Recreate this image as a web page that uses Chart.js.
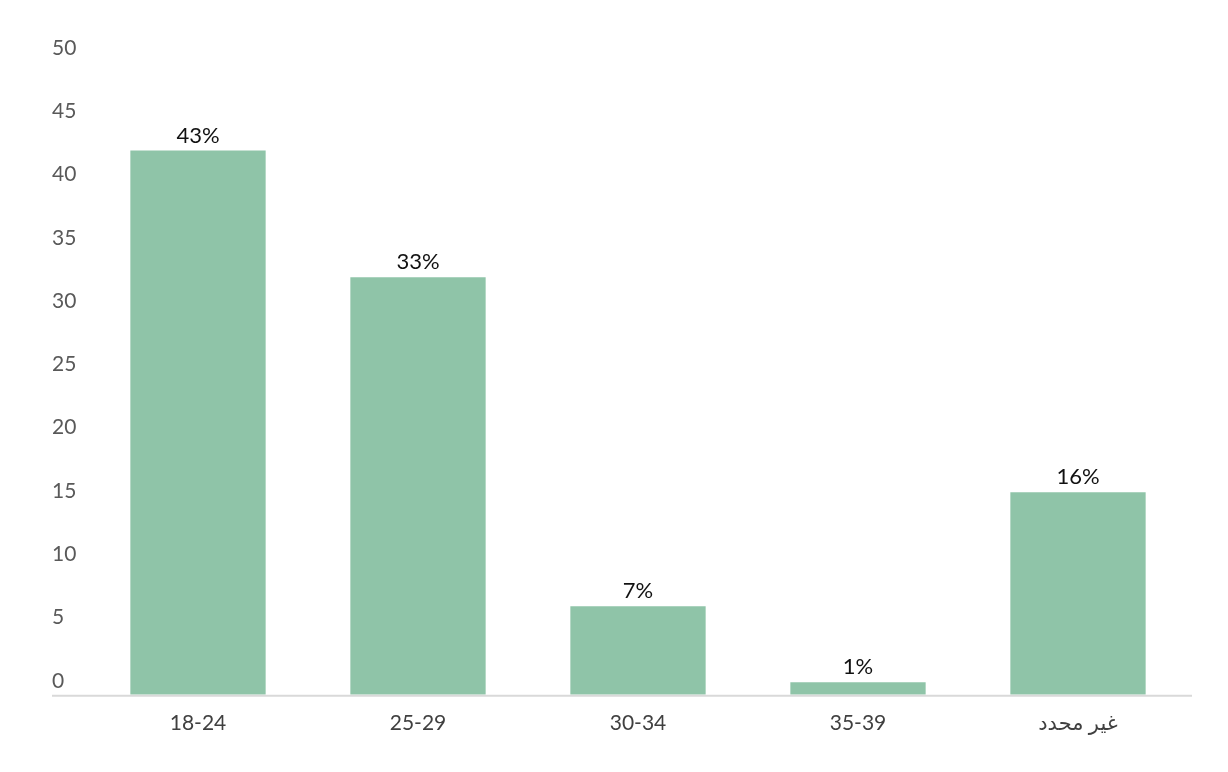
<!DOCTYPE html>
<html>
<head>
<meta charset="utf-8">
<script src="https://cdn.jsdelivr.net/npm/chart.js@4/dist/chart.umd.min.js"></script>
<style>
  html, body { margin: 0; padding: 0; background: #fff; }
  #wrap { width: 1228px; height: 772px; }
</style>
</head>
<body>
<div id="wrap"><canvas id="chart"></canvas></div>
<script>
// chart data
const categories = ['18-24', '25-29', '30-34', '35-39', 'غير محدد'];
const values = [43, 33, 7, 1, 16];
const percentLabels = ['43%', '33%', '7%', '1%', '16%'];
const yMax = 50;
const yStep = 5;

const barColor = '#8fc4a8';
const fontFamily = 'Lato, "DejaVu Sans", sans-serif';

// labels above each bar
const valueLabels = {
    id: 'valueLabels',
    afterDatasetsDraw(chart) {
        const ctx = chart.ctx;
        const meta = chart.getDatasetMeta(0);
        ctx.save();
        ctx.font = '22px ' + fontFamily;
        ctx.fillStyle = '#111';
        ctx.textAlign = 'center';
        ctx.textBaseline = 'alphabetic';
        meta.data.forEach((bar, i) => {
            ctx.fillText(percentLabels[i], bar.x, bar.y - 8);
        });
        ctx.restore();
    }
};

// baseline running under the whole plot, starting at the tick labels
const baseLine = {
    id: 'baseLine',
    afterDatasetsDraw(chart) {
        const ctx = chart.ctx;
        const y = chart.scales.y.getPixelForValue(0);
        ctx.save();
        ctx.strokeStyle = '#d9d9d9';
        ctx.lineWidth = 2;
        ctx.beginPath();
        ctx.moveTo(52, y + 1);
        ctx.lineTo(1192, y + 1);
        ctx.stroke();
        ctx.restore();
    }
};

new Chart(document.getElementById('chart'), {
    type: 'bar',
    data: {
        labels: categories,
        datasets: [{
            data: values,
            backgroundColor: barColor,
            barPercentage: 0.615,
            categoryPercentage: 1
        }]
    },
    options: {
        responsive: true,
        maintainAspectRatio: false,
        animation: false,
        layout: { padding: { top: 62, left: 52, right: 40, bottom: 20 } },
        plugins: {
            legend: { display: false },
            tooltip: { enabled: false }
        },
        scales: {
            x: {
                grid: { display: false, drawTicks: false },
                border: { display: false },
                ticks: {
                    padding: 16,
                    color: '#404040',
                    font: { family: fontFamily, size: 21 }
                }
            },
            y: {
                min: 0,
                max: yMax,
                grid: { display: false, drawTicks: false },
                border: { display: false },
                afterFit(scale) { scale.width = 36; },
                ticks: {
                    stepSize: yStep,
                    crossAlign: 'far',
                    padding: 0,
                    labelOffset: -14,
                    color: '#595959',
                    font: { family: fontFamily, size: 21 }
                }
            }
        }
    },
    plugins: [valueLabels, baseLine]
});
</script>
</body>
</html>
